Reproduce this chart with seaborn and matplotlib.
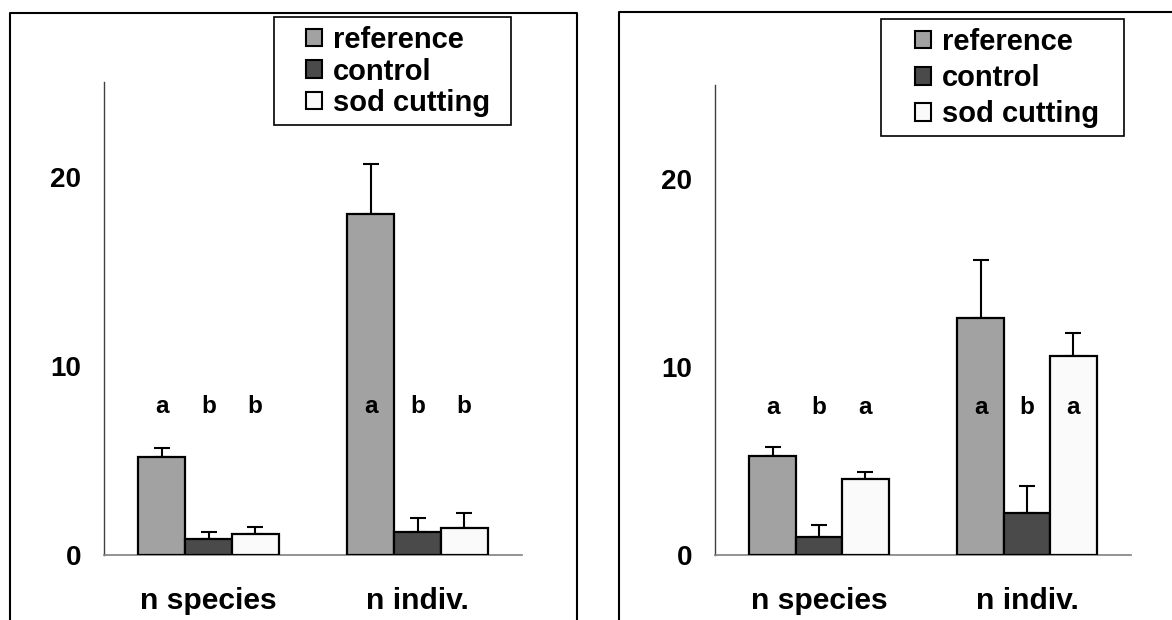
import matplotlib
matplotlib.use("Agg")
import numpy as np
import pandas as pd
import seaborn as sns
import matplotlib.pyplot as plt
from matplotlib.patches import Rectangle
from matplotlib.lines import Line2D

# ---------------- data ----------------
categories = ["n species", "n indiv."]
treatments = ["reference", "control", "sod cutting"]
colors = ["#a2a2a2", "#4a4a4a", "#fafafa"]

# left panel
left_reference = [5.2, 18.0]
left_control = [0.85, 1.2]
left_sod = [1.1, 1.45]
left_reference_err = [0.45, 2.65]
left_control_err = [0.35, 0.75]
left_sod_err = [0.38, 0.75]
left_letters = [["a", "a"], ["b", "b"], ["b", "b"]]   # per treatment, per category

# right panel
right_reference = [5.25, 12.6]
right_control = [0.97, 2.23]
right_sod = [4.05, 10.6]
right_reference_err = [0.48, 3.1]
right_control_err = [0.63, 1.43]
right_sod_err = [0.37, 1.22]
right_letters = [["a", "a"], ["b", "b"], ["a", "a"]]

yticks = [0, 10, 20]

# ---------------- style ----------------
sns.set_theme(style="white")
plt.rcParams["font.family"] = ["Liberation Sans", "DejaVu Sans"]
plt.rcParams["font.weight"] = "bold"
plt.rcParams["text.color"] = "black"
plt.rcParams["xtick.labelcolor"] = "black"
plt.rcParams["ytick.labelcolor"] = "black"

W, H = 1172, 620
fig = plt.figure(figsize=(W / 100, H / 100), dpi=100)


def fx(x):
    return x / W


def fy(y):
    return 1 - y / H


def make_panel(rect_px, means, errs, letters, legend_anchor, legend_box, labelspacing):
    x0, ytop, x1, ybot = rect_px
    ax = fig.add_axes([fx(x0), fy(ybot), (x1 - x0) / W, (ybot - ytop) / H])
    rows = []
    for t, vals in zip(treatments, means):
        for c, v in zip(categories, vals):
            rows.append({"measure": c, "treatment": t, "value": v})
    df = pd.DataFrame(rows)
    sns.barplot(data=df, x="measure", y="value", hue="treatment",
                order=categories, hue_order=treatments,
                palette=colors, saturation=1, width=0.67,
                edgecolor="black", linewidth=1.6, errorbar=None,
                legend=False, ax=ax, zorder=3)
    bar_containers = list(ax.containers)
    for i, cont in enumerate(bar_containers):
        xs = [b.get_x() + b.get_width() / 2 for b in cont]
        ys = [b.get_height() for b in cont]
        ax.errorbar(xs, ys, yerr=[np.zeros(len(ys)), errs[i]], fmt="none",
                    ecolor="black", elinewidth=1.5, capsize=6, capthick=1.5,
                    zorder=2)
        for xx, lab in zip(xs, letters[i]):
            ax.text(xx, 7.5, lab, ha="center", va="baseline", color="black",
                    fontsize=17.5, fontweight="bold", zorder=5)
    ax.set_xlim(-0.5, 1.5)
    ax.set_ylim(0, 25)
    ax.set_yticks(yticks)
    ax.set_yticklabels([str(v) for v in yticks])
    ax.set_xticks([-0.5, 0.5, 1.5])
    ax.set_xticklabels(["", "", ""])
    ax.set_xticks([0, 1], minor=True)
    ax.set_xticklabels(categories, minor=True)
    ax.tick_params(axis="x", which="minor", length=0, pad=23, labelsize=21.6,
                   labelcolor="black")
    ax.tick_params(axis="x", which="major", length=6, width=1,
                   color="#808080", direction="out")
    ax.tick_params(axis="y", length=6.5, width=1, color="#606060",
                   direction="out", pad=10, labelsize=20, labelcolor="black")
    for lab in ax.get_xticklabels(minor=True) + ax.get_yticklabels():
        lab.set_fontweight("bold")
    ax.set_xlabel("")
    ax.set_ylabel("")
    ax.spines["top"].set_visible(False)
    ax.spines["right"].set_visible(False)
    ax.spines["bottom"].set_color("#808080")
    ax.spines["bottom"].set_linewidth(1.2)
    ax.spines["left"].set_color("#404040")
    ax.spines["left"].set_linewidth(1.0)
    ax.set_facecolor("none")

    handles = [Rectangle((0, 0), 1, 1, facecolor=c, edgecolor="black", linewidth=1.5)
               for c in colors]
    leg = ax.legend(handles, treatments, loc="upper left",
                    bbox_to_anchor=(fx(legend_anchor[0]), fy(legend_anchor[1])),
                    bbox_transform=fig.transFigure, frameon=False, borderpad=0,
                    borderaxespad=0, handlelength=0.55, handleheight=0.55,
                    handletextpad=0.38, labelspacing=labelspacing,
                    prop={"weight": "bold", "size": 21})
    for t in leg.get_texts():
        t.set_color("black")
    lx0, ly0, lx1, ly1 = legend_box
    fig.add_artist(Rectangle((fx(lx0), fy(ly1)), (lx1 - lx0) / W, (ly1 - ly0) / H,
                             transform=fig.transFigure, fill=False,
                             edgecolor="black", linewidth=1.2))
    return ax


make_panel((104, 82, 522, 555),
           [left_reference, left_control, left_sod],
           [left_reference_err, left_control_err, left_sod_err],
           left_letters, (306, 26), (274, 17, 511, 125), 0.12)
make_panel((715, 85, 1131, 555),
           [right_reference, right_control, right_sod],
           [right_reference_err, right_control_err, right_sod_err],
           right_letters, (915, 28), (881, 19, 1124, 136), 0.28)

# outer panel frames
frame_kw = dict(transform=fig.transFigure, color="black", linewidth=1.5)
fig.add_artist(Line2D([fx(10), fx(10), fx(577), fx(577)],
                      [fy(625), fy(12.5), fy(12.5), fy(625)], **frame_kw))
fig.add_artist(Line2D([fx(619), fx(619), fx(1180)],
                      [fy(625), fy(12), fy(12)], **frame_kw))

fig.savefig("out.png", dpi=100, facecolor="white")
